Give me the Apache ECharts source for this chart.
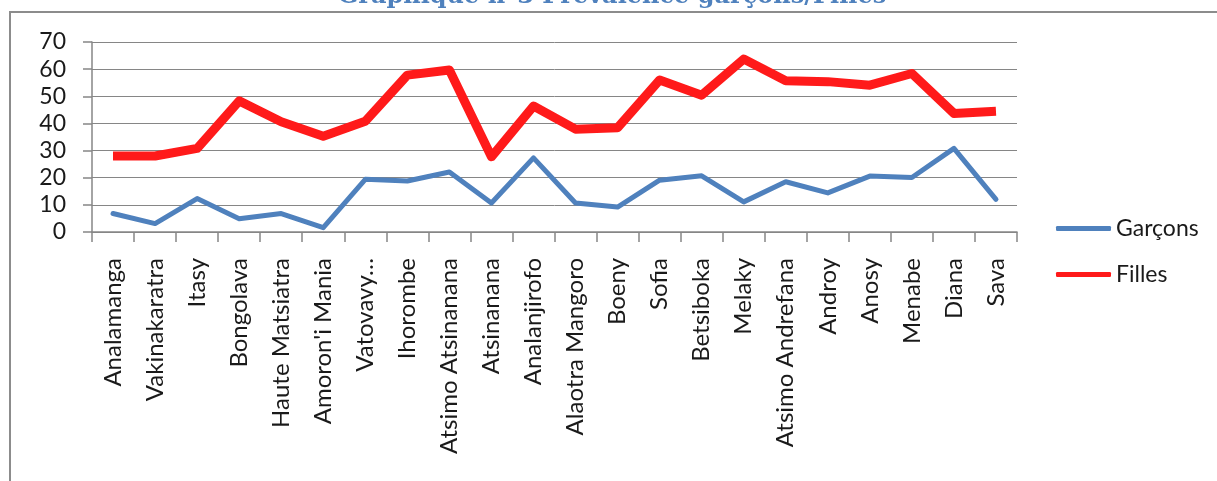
<!DOCTYPE html>
<html>
<head>
<meta charset="utf-8">
<script src="https://cdn.jsdelivr.net/npm/echarts@6/dist/echarts.min.js"></script>
<style>
  html, body { margin: 0; padding: 0; background: #fff; }
  #chart { width: 1217px; height: 481px; }
</style>
</head>
<body>
<div id="chart"></div>
<script>
// Régions
const regions = [
  'Analamanga', 'Vakinakaratra', 'Itasy', 'Bongolava', 'Haute Matsiatra',
  "Amoron'i Mania", 'Vatovavy…', 'Ihorombe', 'Atsimo Atsinanana', 'Atsinanana',
  'Analanjirofo', 'Alaotra Mangoro', 'Boeny', 'Sofia', 'Betsiboka', 'Melaky',
  'Atsimo Andrefana', 'Androy', 'Anosy', 'Menabe', 'Diana', 'Sava'
];

// Prévalence (%) par sexe
const garcons = [6.8, 3.1, 12.3, 4.9, 6.8, 1.6, 19.4, 18.8, 22.1, 10.7, 27.3,
                 10.7, 9.2, 19.1, 20.7, 11.1, 18.5, 14.4, 20.6, 20.1, 30.8, 12.0];
const filles  = [28.0, 28.0, 30.8, 48.3, 40.6, 35.3, 40.8, 57.8, 59.7, 27.7, 46.4,
                 37.9, 38.4, 56.0, 50.4, 63.7, 55.7, 55.4, 54.1, 58.4, 43.7, 44.5];

const yTicks = [0, 10, 20, 30, 40, 50, 60, 70];

const gray = '#868686';
const txt = '#1a1a1a';
const font = 'Lato';

const chart = echarts.init(document.getElementById('chart'), null, { renderer: 'canvas' });

chart.setOption({
  animation: false,
  backgroundColor: '#fff',
  graphic: [
    {
      type: 'rect',
      shape: { x: 10, y: 12, width: 1400, height: 600 },
      style: { fill: 'none', stroke: '#8c8c8c', lineWidth: 2 },
      silent: true
    },
    {
      type: 'text',
      x: 612, y: 9,
      style: {
        text: 'Graphique n°3 Prévalence garçons/Filles',
        fill: '#4f81bd',
        font: 'bold 24px "DejaVu Serif"',
        align: 'center',
        verticalAlign: 'bottom'
      },
      silent: true
    }
  ],
  legend: {
    orient: 'vertical',
    left: 1056,
    top: 217,
    padding: 0,
    itemWidth: 55,
    itemHeight: 5,
    itemGap: 23,
    icon: 'roundRect',
    textStyle: { fontFamily: font, fontSize: 23, lineHeight: 22, color: txt },
    data: [
      { name: 'Garçons', itemStyle: { color: '#4f81bd' } },
      { name: 'Filles', itemStyle: { color: '#ff1a1a' } }
    ]
  },
  grid: { left: 92, right: 200, top: 42, bottom: 249, containLabel: false },
  xAxis: {
    type: 'category',
    data: regions,
    boundaryGap: true,
    axisLine: { lineStyle: { color: gray, width: 1.5 } },
    axisTick: { show: true, length: 10, lineStyle: { color: gray, width: 1.5 }, interval: 0 },
    axisLabel: {
      interval: 0,
      rotate: 90,
      margin: 26,
      fontFamily: font,
      fontSize: 24,
      color: txt
    }
  },
  yAxis: {
    type: 'value',
    min: 0,
    max: 70,
    interval: 10,
    axisLine: { show: true, lineStyle: { color: gray, width: 1.5 } },
    axisTick: { show: true, length: 9, lineStyle: { color: gray, width: 1.5 } },
    splitLine: { lineStyle: { color: gray, width: 1 } },
    axisLabel: {
      margin: 26,
      fontFamily: font,
      fontSize: 23,
      color: txt,
      formatter: v => yTicks.includes(v) ? String(v) : ''
    }
  },
  series: [
    {
      name: 'Garçons',
      type: 'line',
      data: garcons,
      symbol: 'none',
      lineStyle: { color: '#4f81bd', width: 5, cap: 'round', join: 'round' },
      itemStyle: { color: '#4f81bd' },
      z: 3
    },
    {
      name: 'Filles',
      type: 'line',
      data: filles,
      symbol: 'none',
      lineStyle: { color: '#ff1a1a', width: 9, join: 'round' },
      itemStyle: { color: '#ff1a1a' },
      z: 4
    }
  ]
});
</script>
</body>
</html>
